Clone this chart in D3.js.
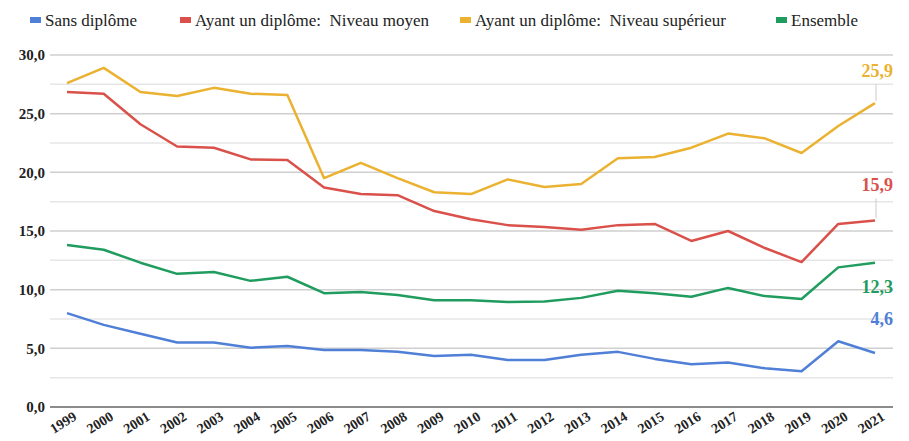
<!DOCTYPE html>
<html>
<head>
<meta charset="utf-8">
<script src="https://cdn.jsdelivr.net/npm/d3@7"></script>
<style>
  body { margin: 0; background: #fff; }
  svg text { font-family: "Liberation Serif", "DejaVu Serif", serif; }
</style>
</head>
<body>
<svg id="chart" width="909" height="441"></svg>
<script>
// years on the x axis
const years = [1999, 2000, 2001, 2002, 2003, 2004, 2005, 2006, 2007, 2008, 2009, 2010,
               2011, 2012, 2013, 2014, 2015, 2016, 2017, 2018, 2019, 2020, 2021];

const sansDiplome = [8.0, 7.0, 6.25, 5.5, 5.5, 5.05, 5.2, 4.85, 4.85, 4.7, 4.35, 4.45,
                     4.0, 4.0, 4.45, 4.7, 4.1, 3.65, 3.8, 3.3, 3.05, 5.6, 4.6];
const niveauMoyen = [26.85, 26.7, 24.1, 22.2, 22.1, 21.1, 21.05, 18.7, 18.15, 18.05, 16.7, 16.0,
                     15.5, 15.35, 15.1, 15.5, 15.6, 14.15, 15.0, 13.55, 12.35, 15.6, 15.9];
const niveauSup = [27.6, 28.9, 26.85, 26.5, 27.2, 26.7, 26.6, 19.5, 20.8, 19.5, 18.3, 18.15,
                   19.4, 18.75, 19.0, 21.2, 21.3, 22.1, 23.3, 22.9, 21.65, 23.95, 25.9];
const ensemble = [13.8, 13.4, 12.3, 11.35, 11.5, 10.75, 11.1, 9.7, 9.8, 9.55, 9.1, 9.1,
                  8.95, 9.0, 9.3, 9.9, 9.7, 9.4, 10.15, 9.45, 9.2, 11.9, 12.3];

const seriesNames = ["Sans diplôme", "Ayant un diplôme:  Niveau moyen",
                     "Ayant un diplôme:  Niveau supérieur", "Ensemble"];
const seriesColors = ["#4f7fd6", "#d9514a", "#ebb130", "#1f9c5e"];
const seriesValues = [sansDiplome, niveauMoyen, niveauSup, ensemble];

const majorTicks = [0, 5, 10, 15, 20, 25, 30];
const minorTicks = [2.5, 7.5, 12.5, 17.5, 22.5, 27.5];

const fmt = v => d3.format(".1f")(v).replace(".", ",");

const svg = d3.select("#chart");

const x = d3.scalePoint()
    .domain(years)
    .range([67, 875]);

const y = d3.scaleLinear()
    .domain([0, 30])
    .range([407, 55]);

const gridLeft = 50, gridRight = 893;

// minor grid
svg.append("g")
    .selectAll("line")
    .data(minorTicks)
    .join("line")
    .attr("x1", gridLeft).attr("x2", gridRight)
    .attr("y1", d => y(d)).attr("y2", d => y(d))
    .attr("stroke", "#e6e6e6")
    .attr("stroke-width", 1.5);

// major grid
svg.append("g")
    .selectAll("line")
    .data(majorTicks.filter(d => d > 0))
    .join("line")
    .attr("x1", gridLeft).attr("x2", gridRight)
    .attr("y1", d => y(d)).attr("y2", d => y(d))
    .attr("stroke", "#cfcfcf")
    .attr("stroke-width", 1.5);

// baseline
svg.append("line")
    .attr("x1", gridLeft).attr("x2", gridRight)
    .attr("y1", y(0)).attr("y2", y(0))
    .attr("stroke", "#666")
    .attr("stroke-width", 1.5);

// y tick labels
svg.append("g")
    .selectAll("text")
    .data(majorTicks)
    .join("text")
    .attr("x", 45)
    .attr("y", d => y(d))
    .attr("dy", "0.35em")
    .attr("text-anchor", "end")
    .attr("font-weight", "bold")
    .attr("font-size", 15)
    .attr("fill", "#222")
    .text(fmt);

// x tick labels, rotated
svg.append("g")
    .selectAll("text")
    .data(years)
    .join("text")
    .attr("transform", d => `translate(${x(d) + 8},${415}) rotate(-32)`)
    .attr("text-anchor", "end")
    .attr("dy", "0.35em")
    .attr("font-weight", "bold")
    .attr("font-size", 14)
    .attr("fill", "#222")
    .text(d => d);

// lines
const line = d3.line()
    .x((d, i) => x(years[i]))
    .y(d => y(d));

svg.append("g")
    .selectAll("path")
    .data(seriesValues)
    .join("path")
    .attr("d", line)
    .attr("fill", "none")
    .attr("stroke", (d, i) => seriesColors[i])
    .attr("stroke-width", 2.5)
    .attr("stroke-linejoin", "round");

// end labels
const last = years[years.length - 1];
const endLabels = [
    { s: 2, dy: -26, leader: true },
    { s: 1, dy: -29, leader: true },
    { s: 3, dy: 30, leader: false },
    { s: 0, dy: -28, leader: false }
];

endLabels.forEach(l => {
    const v = seriesValues[l.s][seriesValues[l.s].length - 1];
    const px = x(last), py = y(v);
    if (l.leader) {
        svg.append("line")
            .attr("x1", px + 1).attr("x2", px + 1)
            .attr("y1", py + l.dy + 7).attr("y2", py - 2)
            .attr("stroke", "#cccccc")
            .attr("stroke-width", 1);
    }
    svg.append("text")
        .attr("x", 893)
        .attr("y", py + l.dy)
        .attr("text-anchor", "end")
        .attr("font-weight", "bold")
        .attr("font-size", 18)
        .attr("fill", seriesColors[l.s])
        .text(fmt(v));
});

// legend
const legendX = [30, 180, 460, 776];
const legend = svg.append("g");
seriesNames.forEach((name, i) => {
    const g = legend.append("g").attr("transform", `translate(${legendX[i]},20)`);
    g.append("rect")
        .attr("x", 0).attr("y", -3)
        .attr("width", 11).attr("height", 6)
        .attr("fill", seriesColors[i]);
    g.append("text")
        .attr("x", 15)
        .attr("y", 0)
        .attr("dy", "0.35em")
        .attr("font-size", 17)
        .attr("fill", "#222")
        .style("white-space", "pre")
        .text(name);
});
</script>
</body>
</html>
